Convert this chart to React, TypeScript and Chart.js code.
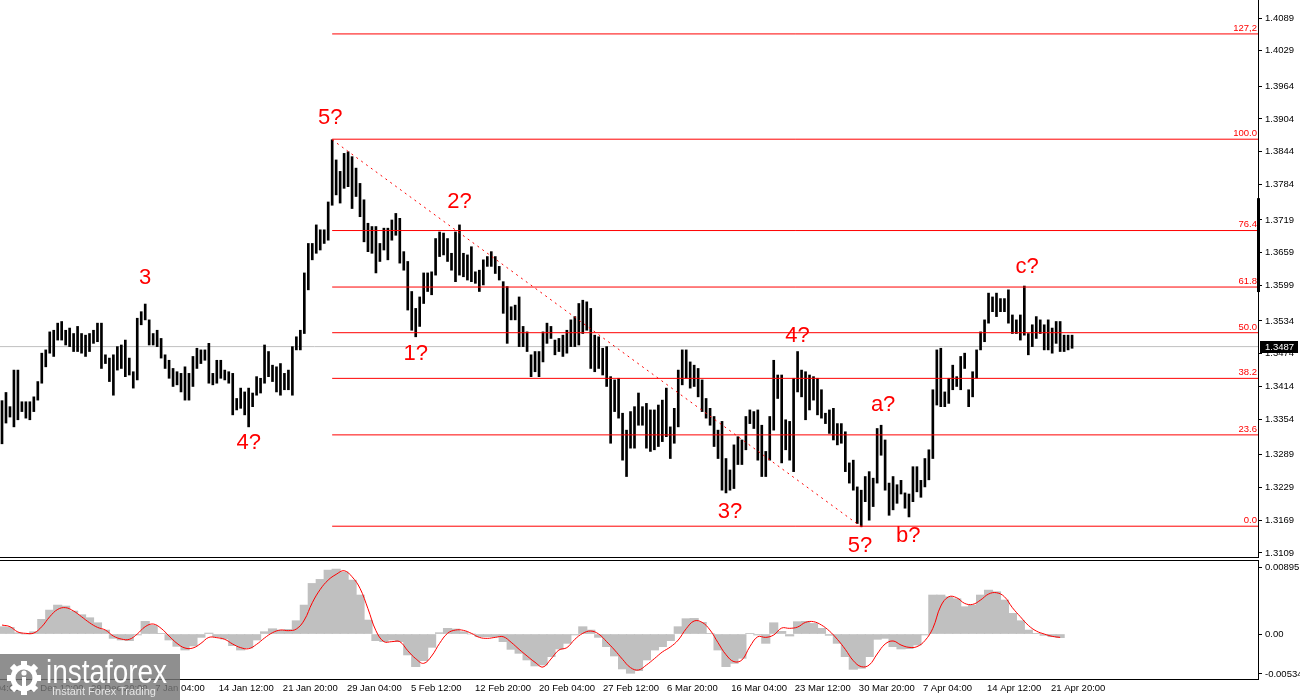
import React, { useEffect, useRef } from "react";
import { Chart, registerables } from "chart.js";

Chart.register(...registerables);

// ---- price bars (H4 bars merged in pairs), high / low ----
const highs = [
  1.3388, 1.3403, 1.3377, 1.3444, 1.3444, 1.3386, 1.3386, 1.3386, 1.3395, 1.3423,
  1.3475, 1.3481, 1.3514, 1.3517, 1.3530, 1.3533, 1.3517, 1.3521, 1.3511, 1.3524,
  1.3511, 1.3508, 1.3511, 1.3517, 1.3530, 1.3530, 1.3472, 1.3466, 1.3472, 1.3487,
  1.3490, 1.3499, 1.3466, 1.3441, 1.3539, 1.3551, 1.3565, 1.3536, 1.3511, 1.3517,
  1.3502, 1.3472, 1.3462, 1.3447, 1.3441, 1.3438, 1.3450, 1.3438, 1.3469, 1.3484,
  1.3481, 1.3481, 1.3493, 1.3438,
  1.3462, 1.3462, 1.3444, 1.3441, 1.3438, 1.3392, 1.3411, 1.3404, 1.3411, 1.3402,
  1.3432, 1.3429, 1.3490, 1.3478, 1.3453, 1.3450, 1.3456, 1.3438, 1.3444, 1.3487,
  1.3505, 1.3517, 1.3622, 1.3676, 1.3676, 1.3710, 1.3701, 1.3701, 1.3752, 1.3866,
  1.3829, 1.3808, 1.3841, 1.3844, 1.3835, 1.3814, 1.3786, 1.3756, 1.3713, 1.3707,
  1.3707, 1.3676, 1.3704, 1.3704, 1.3719, 1.3731, 1.3722, 1.3661, 1.3643, 1.3588,
  1.3557, 1.3578, 1.3622, 1.3622,
  1.3624, 1.3685, 1.3697, 1.3695, 1.3685, 1.3658, 1.3697, 1.3710, 1.3658, 1.3655,
  1.3670, 1.3624, 1.3627, 1.3646, 1.3652, 1.3661, 1.3652, 1.3634, 1.3606, 1.3597,
  1.3560, 1.3563, 1.3578, 1.3524, 1.3514, 1.3472, 1.3478, 1.3478, 1.3514, 1.3530,
  1.3524, 1.3499, 1.3502, 1.3508, 1.3517, 1.3536, 1.3542, 1.3566, 1.3572, 1.3569,
  1.3557, 1.3508, 1.3505, 1.3484, 1.3487, 1.3432, 1.3426, 1.3429, 1.3365, 1.3334,
  1.3368, 1.3377, 1.3402, 1.3377,
  1.3383, 1.3371, 1.3371, 1.3380, 1.3389, 1.3411, 1.3340, 1.3374, 1.3444, 1.3481,
  1.3481, 1.3459, 1.3453, 1.3447, 1.3426, 1.3392, 1.3374, 1.3359, 1.3334, 1.3350,
  1.3282, 1.3261, 1.3307, 1.3322, 1.3316, 1.3359, 1.3371, 1.3368, 1.3371, 1.3343,
  1.3295, 1.3359, 1.3462, 1.3435, 1.3435, 1.3353, 1.3350, 1.3429, 1.3478, 1.3444,
  1.3441, 1.3435, 1.3432, 1.3429, 1.3408, 1.3365, 1.3371, 1.3374, 1.3346, 1.3346,
  1.3331, 1.3274, 1.3279, 1.3230, 1.3224, 1.3249, 1.3258, 1.3246, 1.3337, 1.3343,
  1.3316, 1.3237, 1.3249, 1.3234,
  1.3242, 1.3219, 1.3217, 1.3267, 1.3267, 1.3242, 1.3282, 1.3298, 1.3408, 1.3481,
  1.3484, 1.3404, 1.3429, 1.3453, 1.3432, 1.3469, 1.3475, 1.3408, 1.3441, 1.3481,
  1.3514, 1.3536, 1.3585, 1.3578, 1.3585, 1.3575, 1.3575, 1.3591, 1.3545, 1.3536,
  1.3545, 1.3598, 1.3511, 1.3527, 1.3542, 1.3536, 1.3527, 1.3536, 1.3521, 1.3533,
  1.3533, 1.3508, 1.3508, 1.3508,
];

const lows = [
  1.3309, 1.3347, 1.3358, 1.3340, 1.3353, 1.3368, 1.3356, 1.3353, 1.3368, 1.3389,
  1.3420, 1.3450, 1.3475, 1.3469, 1.3499, 1.3499, 1.3490, 1.3487, 1.3478, 1.3478,
  1.3475, 1.3469, 1.3478, 1.3493, 1.3496, 1.3447, 1.3456, 1.3423, 1.3398, 1.3444,
  1.3447, 1.3432, 1.3435, 1.3411, 1.3426, 1.3527, 1.3536, 1.3490, 1.3490, 1.3487,
  1.3466, 1.3447, 1.3429, 1.3414, 1.3417, 1.3404, 1.3389, 1.3389, 1.3414, 1.3447,
  1.3456, 1.3462, 1.3420, 1.3417,
  1.3420, 1.3429, 1.3426, 1.3420, 1.3362, 1.3371, 1.3374, 1.3362, 1.3340, 1.3377,
  1.3398, 1.3402, 1.3420, 1.3432, 1.3423, 1.3404, 1.3398, 1.3408, 1.3408, 1.3398,
  1.3481, 1.3481, 1.3511, 1.3591, 1.3646, 1.3658, 1.3664, 1.3676, 1.3682, 1.3746,
  1.3765, 1.3750, 1.3777, 1.3780, 1.3740, 1.3762, 1.3725, 1.3679, 1.3661, 1.3658,
  1.3622, 1.3643, 1.3664, 1.3646, 1.3682, 1.3691, 1.3640, 1.3627, 1.3554, 1.3517,
  1.3505, 1.3524, 1.3566, 1.3588,
  1.3582, 1.3618, 1.3652, 1.3655, 1.3643, 1.3627, 1.3606, 1.3618, 1.3615, 1.3609,
  1.3606, 1.3603, 1.3588, 1.3600, 1.3634, 1.3634, 1.3621, 1.3609, 1.3548, 1.3493,
  1.3536, 1.3536, 1.3487, 1.3487, 1.3478, 1.3432, 1.3441, 1.3432, 1.3459, 1.3493,
  1.3502, 1.3472, 1.3478, 1.3469, 1.3475, 1.3487, 1.3487, 1.3490, 1.3511, 1.3517,
  1.3447, 1.3441, 1.3447, 1.3435, 1.3414, 1.3310, 1.3368, 1.3356, 1.3279, 1.3249,
  1.3301, 1.3301, 1.3343, 1.3343,
  1.3301, 1.3295, 1.3298, 1.3304, 1.3313, 1.3322, 1.3282, 1.3310, 1.3340, 1.3417,
  1.3429, 1.3411, 1.3414, 1.3395, 1.3368, 1.3356, 1.3343, 1.3304, 1.3282, 1.3224,
  1.3219, 1.3224, 1.3227, 1.3271, 1.3271, 1.3298, 1.3346, 1.3337, 1.3279, 1.3249,
  1.3249, 1.3279, 1.3334, 1.3392, 1.3274, 1.3298, 1.3279, 1.3258, 1.3404, 1.3395,
  1.3353, 1.3371, 1.3389, 1.3362, 1.3356, 1.3346, 1.3328, 1.3316, 1.3307, 1.3310,
  1.3258, 1.3237, 1.3224, 1.3163, 1.3157, 1.3203, 1.3169, 1.3194, 1.3237, 1.3288,
  1.3224, 1.3178, 1.3188, 1.3200,
  1.3217, 1.3191, 1.3175, 1.3203, 1.3221, 1.3211, 1.3230, 1.3243, 1.3282, 1.3380,
  1.3377, 1.3377, 1.3383, 1.3408, 1.3414, 1.3408, 1.3447, 1.3377, 1.3395, 1.3429,
  1.3481, 1.3496, 1.3530, 1.3551, 1.3542, 1.3551, 1.3551, 1.3530, 1.3511, 1.3511,
  1.3499, 1.3508, 1.3472, 1.3487, 1.3502, 1.3511, 1.3481, 1.3481, 1.3475, 1.3493,
  1.3478, 1.3478, 1.3481, 1.3484,
];

// ---- MACD (one value every second bar slot) ----
const macdHist = [
  0.00098, 0.00089, 0.00018, 0, 0.00031, 0.00196, 0.0032, 0.00387, 0.00374, 0.00307,
  0.00258, 0.00218, 0.00151, 0.00053, -0.00058, -0.0008, -0.00089, -0.00013, 0.00169, 0.00116,
  0.00009, -0.0008, -0.00165, -0.00214, -0.0016, -0.00045, 0.00013, -0.00036, -0.00067, -0.00156,
  -0.00214, -0.00187, -0.0008, 0.00031, 0.00071, 0.00053, 0.00062, 0.00178, 0.00387, 0.00676,
  0.0073, 0.00854, 0.00868, 0.00828, 0.00721, 0.00521, 0.00187, -0.00089, -0.00102, -0.0008,
  -0.00102, -0.0028, -0.00436, -0.00356, -0.00178, 0.00018, 0.00076, 0.00067, 0.00031, 0,
  -0.00036, -0.00036, -0.00036, -0.00102, -0.00205, -0.00258, -0.00347, -0.00427, -0.00414, -0.00303,
  -0.002, -0.00125, -0.00013, 0.00098, 0.00053, -0.00045, -0.00169, -0.00294, -0.00467, -0.00525,
  -0.0049, -0.00347, -0.00214, -0.00169, -0.00089, 0.00098, 0.00205, 0.00209, 0.00156, 0.00009,
  -0.00214, -0.00436, -0.00392, -0.00325, 0.00009, -0.00013, -0.00125, 0.00151, 0.00036, -0.00027,
  0.00165, 0.00169, 0.00142, 0.00076, -0.00018, -0.00125, -0.00303, -0.00472, -0.00458, -0.00303,
  -0.00071, -0.00058, -0.00169, -0.002, -0.00196, -0.00147, -0.00013, 0.00521, 0.00521, 0.00498,
  0.00472, 0.00365, 0.00387, 0.00521, 0.00587, 0.00565, 0.00454, 0.00276, 0.00178, 0.00053,
  0.00009, -0.00018, -0.00036, -0.00049,
];

const macdSignal = [
  0.0012, 0.00098, 0.00027, 0.00009, 0.00013, 0.00098, 0.00231, 0.00329, 0.00352, 0.00307,
  0.00231, 0.00151, 0.00089, 0.00053, -0.00027, -0.00067, -0.00071, 0, 0.00098, 0.00134,
  0.00076, -0.00027, -0.00125, -0.00187, -0.00187, -0.00125, -0.00045, -0.00049, -0.00071, -0.00134,
  -0.00182, -0.00196, -0.00138, -0.00053, 0.00018, 0.00053, 0.00045, 0.00067, 0.00187, 0.00418,
  0.00596, 0.00721, 0.00797, 0.00846, 0.00765, 0.0061, 0.00338, 0.00045, -0.00102, -0.00102,
  -0.00102, -0.00223, -0.00329, -0.00392, -0.00294, -0.00125, 0.00009, 0.00053, 0.00049, 0.00009,
  -0.00045, -0.00058, -0.00045, -0.00036, -0.00111, -0.00205, -0.00294, -0.00378, -0.00441, -0.00334,
  -0.00214, -0.00182, -0.00071, 0.00009, 0.0004, 0, -0.00102, -0.00214, -0.00338, -0.00449,
  -0.00481, -0.00414, -0.00329, -0.0024, -0.00174, -0.0008, 0.00071, 0.00174, 0.00156, 0.00053,
  -0.00116, -0.00276, -0.00369, -0.00347, -0.00169, -0.00036, -0.00045, -0.00013, 0.0008, 0.00076,
  0.00093, 0.00156, 0.00165, 0.0012, 0.0004, -0.00071, -0.00205, -0.00356, -0.00436, -0.00414,
  -0.00267, -0.00134, -0.00093, -0.00147, -0.00178, -0.00169, -0.00089, 0.00076, 0.00374, 0.00498,
  0.00485, 0.00409, 0.00396, 0.00454, 0.00534, 0.00552, 0.00498, 0.00352, 0.00231, 0.00116,
  0.0004, 0, -0.00031, -0.00045,
];
const MACD_STEP = 2;

// ---- axes ----
const yTicks = [
  1.4089, 1.4029, 1.3964, 1.3904, 1.3844, 1.3784, 1.3719, 1.3659, 1.3599,
  1.3534, 1.3474, 1.3414, 1.3354, 1.3289, 1.3229, 1.3169, 1.3109,
];
const macdTicks = [0.00895, 0, -0.00534];
const macdTickLabels = ["0.00895", "0.00", "-0.00534"];

const timeLabels = [
  "12 Dec 04:00", "19 Dec 12:00", "29 Dec 20:00", "7 Jan 04:00", "14 Jan 12:00",
  "21 Jan 20:00", "29 Jan 04:00", "5 Feb 12:00", "12 Feb 20:00", "20 Feb 04:00",
  "27 Feb 12:00", "6 Mar 20:00", "16 Mar 04:00", "23 Mar 12:00", "30 Mar 20:00",
  "7 Apr 04:00", "14 Apr 12:00", "21 Apr 20:00",
];
const timeSlots = [
  -9.8, 6.3, 22.4, 38.5, 54.5, 70.6, 86.7, 102.8, 118.9, 135.0,
  151.1, 167.2, 183.3, 199.3, 215.4, 231.5, 247.6, 263.7,
];

// ---- fibonacci grid ----
const fibLow = 1.3158;
const fibHigh = 1.3867;
const fibRatios = [0, 23.6, 38.2, 50, 61.8, 76.4, 100, 127.2];
const fibNames = ["0.0", "23.6", "38.2", "50.0", "61.8", "76.4", "100.0", "127,2"];
const fibStartSlot = 83;
const trendSlots = [83, 216];
const trendPrices = [1.3866, 1.3157];
const currentPrice = 1.3487;
const axisMarkPrices = [1.3759, 1.3587];

// ---- wave labels ----
const waveLabels = ["3", "4?", "5?", "2?", "1?", "3?", "4?", "5?", "a?", "b?", "c?"];
const waveSlots = [36, 62, 82.5, 115, 104, 183, 200, 215.7, 221.5, 227.8, 257.7];
const wavePrices = [1.3613, 1.3311, 1.3906, 1.3752, 1.3474, 1.3184, 1.3506, 1.3122, 1.338, 1.314, 1.3633];

const X_MIN = -0.503;
const X_MAX = 315.74;
const Y_MIN = 1.31016;
const Y_MAX = 1.4122;
const M_MIN = -0.00601;
const M_MAX = 0.00989;
const FONT = '"Liberation Sans", Arial, sans-serif';

const fibLevel = (r: number) => fibLow + ((fibHigh - fibLow) * r) / 100;

const mainOverlay = {
  id: "mainOverlay",
  afterDraw(chart: any) {
    const { ctx, chartArea, scales } = chart;
    const x = scales.x;
    const y = scales.y;
    ctx.save();
    ctx.font = `9.5px ${FONT}`;
    ctx.fillStyle = "#ff0000";
    ctx.textAlign = "right";
    ctx.textBaseline = "bottom";
    fibRatios.forEach((r, i) => {
      const py = y.getPixelForValue(fibLevel(r));
      ctx.fillText(fibNames[i], chartArea.right - 1, py - 1);
    });
    ctx.font = `22px ${FONT}`;
    ctx.textAlign = "center";
    ctx.textBaseline = "middle";
    waveLabels.forEach((t, i) => {
      ctx.fillText(t, x.getPixelForValue(waveSlots[i]), y.getPixelForValue(wavePrices[i]));
    });
    ctx.fillStyle = "#000";
    const t1 = y.getPixelForValue(axisMarkPrices[0]);
    const b1 = y.getPixelForValue(axisMarkPrices[1]);
    ctx.fillRect(chartArea.right - 1, t1, 3, b1 - t1);
    const pp = Math.round(y.getPixelForValue(currentPrice));
    ctx.fillRect(chartArea.right + 2, pp - 6, 38, 12);
    ctx.fillStyle = "#fff";
    ctx.font = `9.5px ${FONT}`;
    ctx.textAlign = "left";
    ctx.textBaseline = "middle";
    ctx.fillText(currentPrice.toFixed(4), chartArea.right + 7, pp);
    ctx.fillStyle = "#000";
    ctx.fillRect(0, chartArea.bottom, chartArea.right + 1, 1);
    ctx.restore();
  },
};

const macdOverlay = {
  id: "macdOverlay",
  afterDraw(chart: any) {
    const { ctx, chartArea, scales } = chart;
    const x = scales.x;
    ctx.save();
    ctx.fillStyle = "#000";
    ctx.fillRect(0, chartArea.top, chartArea.right + 1, 1);
    ctx.fillRect(0, chartArea.bottom, chartArea.right + 1, 1);
    ctx.font = `9.5px ${FONT}`;
    ctx.textAlign = "left";
    ctx.textBaseline = "middle";
    timeLabels.forEach((t, i) => {
      const px = x.getPixelForValue(timeSlots[i]);
      ctx.fillText(t, px, chartArea.bottom + 9);
    });
    ctx.restore();
  },
};

const xScale = {
  type: "linear",
  min: X_MIN,
  max: X_MAX,
  offset: false,
  display: false,
  grid: { offset: false },
};

const fitRightAxis = (s: any) => {
  s.width = 42;
  s.paddingTop = 0;
  s.paddingBottom = 0;
};

function PriceChart() {
  const ref = useRef<HTMLCanvasElement | null>(null);
  useEffect(() => {
    if (!ref.current) return;
    const bars = highs.map((h, k) => ({ x: k, y: [lows[k], h] }));
    const fibSets = fibRatios.map((r) => ({
      type: "line" as const,
      data: [
        { x: fibStartSlot, y: fibLevel(r) },
        { x: X_MAX, y: fibLevel(r) },
      ],
      borderColor: "#ff0000",
      borderWidth: 1,
      pointRadius: 0,
      order: 1,
    }));
    const chart = new Chart(ref.current, {
      type: "bar",
      data: {
        datasets: [
          {
            type: "line",
            data: [
              { x: X_MIN, y: currentPrice },
              { x: X_MAX, y: currentPrice },
            ],
            borderColor: "#c0c0c0",
            borderWidth: 1,
            pointRadius: 0,
            order: 3,
          } as any,
          {
            type: "bar",
            data: bars,
            backgroundColor: "#000000",
            barThickness: 2,
            order: 2,
          } as any,
          ...(fibSets as any[]),
          {
            type: "line",
            data: [
              { x: trendSlots[0], y: trendPrices[0] },
              { x: trendSlots[1], y: trendPrices[1] },
            ],
            borderColor: "#ff0000",
            borderWidth: 1,
            borderDash: [2, 4],
            pointRadius: 0,
            order: 0,
          } as any,
        ],
      },
      options: {
        animation: false,
        responsive: false,
        maintainAspectRatio: false,
        layout: { padding: { top: 0, bottom: 1, left: 0, right: 0 } },
        plugins: { legend: { display: false }, tooltip: { enabled: false } },
        scales: {
          x: xScale,
          y: {
            type: "linear",
            position: "right",
            min: Y_MIN,
            max: Y_MAX,
            afterFit: fitRightAxis,
            afterBuildTicks(s: any) {
              s.ticks = yTicks.map((v) => ({ value: v }));
            },
            ticks: {
              autoSkip: false,
              padding: 3,
              color: "#000",
              font: { family: FONT, size: 9.5 },
              callback: (v: any) => Number(v).toFixed(4),
            },
            grid: { drawOnChartArea: false, tickLength: 4, color: "#000" },
            border: { color: "#000", width: 1 },
          },
        },
      } as any,
      plugins: [mainOverlay],
    });
    return () => chart.destroy();
  }, []);
  return (
    <canvas
      ref={ref}
      width={1300}
      height={558}
      style={{ position: "absolute", left: 0, top: 0, width: 1300, height: 558 }}
    />
  );
}

function MacdChart() {
  const ref = useRef<HTMLCanvasElement | null>(null);
  useEffect(() => {
    if (!ref.current) return;
    const hist = macdHist.map((v, j) => ({ x: j * MACD_STEP, y: v }));
    const sig = macdSignal.map((v, j) => ({ x: j * MACD_STEP, y: v }));
    const chart = new Chart(ref.current, {
      type: "bar",
      data: {
        datasets: [
          {
            type: "line",
            data: sig,
            borderColor: "#ff0000",
            borderWidth: 1,
            pointRadius: 0,
            tension: 0.4,
            order: 0,
          } as any,
          {
            type: "bar",
            data: hist,
            backgroundColor: "#c0c0c0",
            barThickness: 8.5,
            order: 1,
          } as any,
        ],
      },
      options: {
        animation: false,
        responsive: false,
        maintainAspectRatio: false,
        layout: { padding: { top: 2, bottom: 21, left: 0, right: 0 } },
        plugins: { legend: { display: false }, tooltip: { enabled: false } },
        scales: {
          x: xScale,
          y: {
            type: "linear",
            position: "right",
            min: M_MIN,
            max: M_MAX,
            afterFit: fitRightAxis,
            afterBuildTicks(s: any) {
              s.ticks = macdTicks.map((v) => ({ value: v }));
            },
            ticks: {
              autoSkip: false,
              padding: 3,
              color: "#000",
              font: { family: FONT, size: 9.5 },
              callback: (v: any) => {
                const i = macdTicks.indexOf(Number(v));
                return i >= 0 ? macdTickLabels[i] : "";
              },
            },
            grid: { drawOnChartArea: false, tickLength: 4, color: "#000" },
            border: { color: "#000", width: 1 },
          },
        },
      } as any,
      plugins: [macdOverlay],
    });
    return () => chart.destroy();
  }, []);
  return (
    <canvas
      ref={ref}
      width={1300}
      height={142}
      style={{ position: "absolute", left: 0, top: 558, width: 1300, height: 142 }}
    />
  );
}

function Gear() {
  const teeth = [0, 45, 90, 135, 180, 225, 270, 315];
  return (
    <svg width="36" height="36" viewBox="0 0 36 36" style={{ position: "absolute", left: 6, top: 6 }}>
      {teeth.map((a) => (
        <rect key={a} x="15" y="1" width="6" height="8" fill="#fff" transform={`rotate(${a} 18 18)`} />
      ))}
      <circle cx="18" cy="18" r="11" fill="none" stroke="#fff" strokeWidth="5" />
      <circle cx="18" cy="13" r="2.6" fill="#fff" />
      <rect x="16" y="17" width="4" height="12" fill="#fff" />
    </svg>
  );
}

export default function App() {
  return (
    <div
      style={{
        position: "fixed",
        left: 0,
        top: 0,
        width: 1300,
        height: 700,
        background: "#ffffff",
        overflow: "hidden",
      }}
    >
      <PriceChart />
      <MacdChart />
      <div
        style={{
          position: "absolute",
          left: 0,
          top: 654,
          width: 180,
          height: 46,
          background: "rgba(118,118,118,0.82)",
          overflow: "hidden",
        }}
      >
        <Gear />
        <div
          style={{
            position: "absolute",
            left: 46,
            top: -3,
            fontFamily: FONT,
            fontSize: 34,
            color: "#ffffff",
            whiteSpace: "nowrap",
            transform: "scaleX(0.82)",
            transformOrigin: "left top",
            lineHeight: "40px",
          }}
        >
          instaforex
        </div>
        <div
          style={{
            position: "absolute",
            left: 52,
            top: 31,
            fontFamily: FONT,
            fontSize: 11,
            color: "#e6e6e6",
            whiteSpace: "nowrap",
            lineHeight: "13px",
          }}
        >
          Instant Forex Trading
        </div>
      </div>
    </div>
  );
}
